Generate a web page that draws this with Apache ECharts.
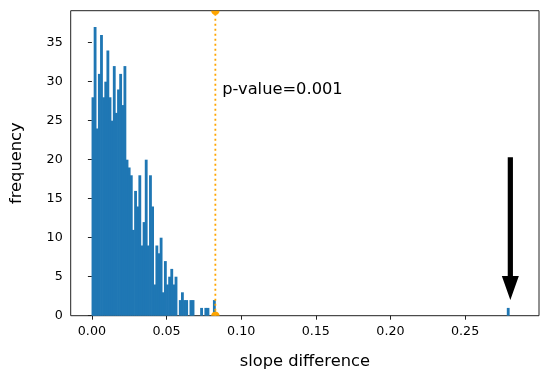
<!DOCTYPE html>
<html><head><meta charset="utf-8">
<script src="https://cdn.jsdelivr.net/npm/echarts@6/dist/echarts.min.js"></script>
<style>html,body{margin:0;padding:0;background:#fff}#c{width:550px;height:381px}</style>
</head><body><div id="c"></div>
<script>
// histogram of slope differences (bin width and counts)
const binWidth = 0.0014265;
const counts = [28,37,24,31,36,28,30,34,28,25,32,26,29,31,27,32,20,19,18,11,
                16,14,18,9,12,20,9,18,14,4,9,8,10,3,7,4,5,6,4,5,
                0,2,3,2,2,0,2,2,0,0,0,1,0,1,1,0,0,2];
const outlierBin = 195;
const outlierCount = 1;
const pValueX = 0.0827;
const pValueText = 'p-value=0.001';
const pValueTextPos = [0.0873, 28.9];
const arrowX = 0.2803, arrowTop = 20.3, arrowTip = 2.0;
const xTicks = [0, 0.05, 0.10, 0.15, 0.20, 0.25];
const yTicks = [0, 5, 10, 15, 20, 25, 30, 35];
const xRange = [-0.0142, 0.2995];
const yRange = [0, 39.1];

const barData = [];
counts.forEach((c, i) => { if (c > 0) barData.push([i * binWidth, (i + 1) * binWidth, c]); });
barData.push([outlierBin * binWidth, (outlierBin + 1) * binWidth, outlierCount]);

const chart = echarts.init(document.getElementById('c'), null, {renderer: 'canvas'});
const font = 'DejaVu Sans';
chart.setOption({
  animation: false,
  grid: {left: 70.7, right: 11, top: 10.7, bottom: 65.3, show: true, borderColor: '#222', borderWidth: 1, backgroundColor: 'transparent'},
  xAxis: {
    type: 'value', min: xRange[0], max: xRange[1],
    name: 'slope difference', nameLocation: 'middle', nameGap: 38,
    nameTextStyle: {fontFamily: font, fontSize: 16.3, color: '#000'},
    axisLine: {show: false},
    axisTick: {show: true, length: 4, lineStyle: {color: '#222'}, customValues: xTicks},
    axisLabel: {fontFamily: font, fontSize: 12.7, color: '#000', margin: 9, customValues: xTicks,
      formatter: v => v.toFixed(2)},
    splitLine: {show: false}
  },
  yAxis: {
    type: 'value', min: yRange[0], max: yRange[1],
    name: 'frequency', nameLocation: 'middle', nameGap: 46, nameRotate: 90,
    nameTextStyle: {fontFamily: font, fontSize: 16.3, color: '#000'},
    axisLine: {show: false},
    axisTick: {show: true, length: 4, lineStyle: {color: '#222'}, customValues: yTicks},
    axisLabel: {fontFamily: font, fontSize: 12.7, color: '#000', margin: 8, customValues: yTicks},
    splitLine: {show: false}
  },
  series: [
    {
      type: 'custom', data: barData, encode: {x: [0, 1], y: 2},
      renderItem(params, api) {
        const p0 = api.coord([api.value(0), api.value(2)]);
        const p1 = api.coord([api.value(1), 0]);
        return {type: 'rect', shape: {x: p0[0] - 0.35, y: p0[1], width: p1[0] - p0[0] + 0.7, height: p1[1] - p0[1]},
          style: {fill: '#1f77b4'}};
      }
    },
    {
      type: 'line', data: [[pValueX, yRange[0]], [pValueX, yRange[1]]], symbol: 'none',
      lineStyle: {color: '#FFA500', width: 1.8, type: [2, 3]}, z: 3
    },
    {
      type: 'custom', data: [[pValueX, yRange[0]], [pValueX, yRange[1]]], z: 4,
      renderItem(params, api) {
        const p = api.coord([api.value(0), api.value(1)]);
        const cs = params.coordSys;
        return {type: 'group', clipPath: {type: 'rect', shape: {x: cs.x, y: cs.y, width: cs.width, height: cs.height}},
          children: [{type: 'circle', shape: {cx: p[0], cy: p[1], r: 4.2}, style: {fill: '#FFA500'}}]};
      }
    },
    {
      type: 'custom', data: [pValueTextPos], z: 5,
      renderItem(params, api) {
        const p = api.coord([api.value(0), api.value(1)]);
        return {type: 'text', x: p[0], y: p[1], style: {text: pValueText, fontFamily: font, fontSize: 16.3,
          fill: '#000', align: 'left', verticalAlign: 'middle'}};
      }
    },
    {
      type: 'custom', data: [[arrowX, arrowTop, arrowTip]], z: 6,
      renderItem(params, api) {
        const top = api.coord([api.value(0), api.value(1)]);
        const tip = api.coord([api.value(0), api.value(2)]);
        const x = top[0], headLen = 24, headHalf = 8.5, shaftHalf = 2.6;
        const hb = tip[1] - headLen;
        return {type: 'polygon', shape: {points: [
          [x - shaftHalf, top[1]], [x + shaftHalf, top[1]], [x + shaftHalf, hb], [x + headHalf, hb],
          [x, tip[1]], [x - headHalf, hb], [x - shaftHalf, hb]]}, style: {fill: '#000'}};
      }
    }
  ]
});
</script></body></html>
